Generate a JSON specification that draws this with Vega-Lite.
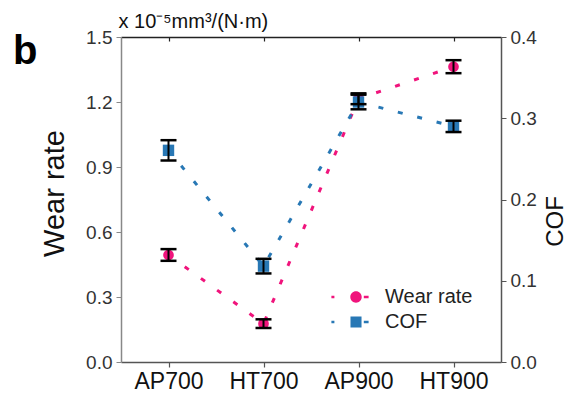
{
  "$schema": "https://vega.github.io/schema/vega-lite/v6.json",
  "width": 380,
  "height": 325,
  "autosize": {"type": "none"},
  "padding": {"left": 121, "top": 37, "right": 72, "bottom": 38},
  "background": "white",
  "config": {
    "font": "Liberation Sans",
    "view": {"stroke": null},
    "axis": {"grid": false, "titleFontWeight": "normal", "labelFont": "Liberation Sans", "titleFont": "Liberation Sans"}
  },
  "title": {"text": "b", "fontSize": 40, "fontWeight": "bold", "font": "Liberation Sans", "anchor": "start", "frame": "group", "dx": -108, "dy": 97, "color": "#000", "baseline": "alphabetic"},
  "data": {
    "values": [
      {"sample": "AP700", "series": "Wear rate", "value": 0.494, "lo": 0.467, "hi": 0.521},
      {"sample": "HT700", "series": "Wear rate", "value": 0.177, "lo": 0.157, "hi": 0.197},
      {"sample": "AP900", "series": "Wear rate", "value": 1.215, "lo": 1.19, "hi": 1.24},
      {"sample": "HT900", "series": "Wear rate", "value": 1.363, "lo": 1.333, "hi": 1.393},
      {"sample": "AP700", "series": "COF", "value": 0.2605, "lo": 0.248, "hi": 0.273},
      {"sample": "HT700", "series": "COF", "value": 0.118, "lo": 0.109, "hi": 0.127},
      {"sample": "AP900", "series": "COF", "value": 0.32, "lo": 0.311, "hi": 0.329},
      {"sample": "HT900", "series": "COF", "value": 0.29, "lo": 0.283, "hi": 0.297}
    ]
  },
  "resolve": {"scale": {"y": "independent"}, "axis": {"x": "independent", "y": "independent"}},
  "layer": [
    {
      "transform": [{"filter": "datum.series === 'Wear rate'"}],
      "mark": {"type": "line", "color": "#F0147C", "strokeWidth": 3, "strokeDash": [5, 15]},
      "encoding": {
        "x": {"field": "sample", "type": "ordinal", "scale": {"type": "point", "padding": 0.5, "domain": ["AP700", "HT700", "AP900", "HT900"]},
          "axis": {"orient": "bottom", "title": null, "labelAngle": 0, "labelFontSize": 23, "labelPadding": 3, "tickSize": 5, "tickColor": "#555", "domainColor": "#555", "domainWidth": 1.5, "tickWidth": 1.2, "labelColor": "#111"}},
        "y": {"field": "value", "type": "quantitative", "scale": {"domain": [0, 1.5], "nice": false, "zero": false},
          "axis": {"orient": "left", "title": "Wear rate", "values": [0, 0.3, 0.6, 0.9, 1.2, 1.5], "format": ".1f", "labelFontSize": 19, "labelPadding": 4, "tickSize": 5, "tickColor": "#888", "domainColor": "#888", "domainWidth": 1.5, "titleFontSize": 29, "titleAngle": -90, "titleBaseline": "alphabetic", "titleAlign": "center", "titleX": -58, "titleY": 156, "labelColor": "#333", "titleColor": "#111"}}
      }
    },
    {
      "transform": [{"filter": "datum.series === 'COF'"}],
      "mark": {"type": "line", "color": "#2878B5", "strokeWidth": 3, "strokeDash": [5, 15]},
      "encoding": {
        "x": {"field": "sample", "type": "ordinal", "scale": {"type": "point", "padding": 0.5, "domain": ["AP700", "HT700", "AP900", "HT900"]},
          "axis": {"orient": "top", "labels": false, "tickSize": -4, "tickColor": "#222", "domainColor": "#222", "domainWidth": 1.5, "tickWidth": 1.2, "title": "x 10⁻⁵mm³/(N·m)", "titleFontSize": 20, "titleAlign": "left", "titleAnchor": "start", "titleBaseline": "alphabetic", "titleAngle": 0, "titleX": -3, "titleY": -10, "titleColor": "#111"}},
        "y": {"field": "value", "type": "quantitative", "scale": {"domain": [0, 0.4], "nice": false, "zero": false},
          "axis": {"orient": "right", "title": "COF", "values": [0, 0.1, 0.2, 0.3, 0.4], "format": ".1f", "labelFontSize": 19, "labelPadding": 4, "tickSize": 5, "tickColor": "#555", "domainColor": "#555", "domainWidth": 1.5, "titleFontSize": 24, "titleAngle": -90, "titleBaseline": "alphabetic", "titleAlign": "center", "titleX": 61, "titleY": 184, "labelColor": "#333", "titleColor": "#111"}}
      }
    },
    {
      "transform": [{"filter": "datum.series === 'Wear rate'"}],
      "mark": {"type": "point", "filled": true, "size": 115, "opacity": 1},
      "encoding": {
        "x": {"field": "sample", "type": "ordinal", "scale": {"type": "point", "padding": 0.5, "domain": ["AP700", "HT700", "AP900", "HT900"]}, "axis": null},
        "y": {"field": "value", "type": "quantitative", "scale": {"domain": [0, 1.5], "nice": false, "zero": false}, "axis": null},
        "color": {"field": "series", "type": "nominal", "scale": {"domain": ["Wear rate", "COF"], "range": ["#F0147C", "#2878B5"]},
          "legend": {"title": null, "orient": "none", "legendX": 225, "legendY": 250, "padding": 0, "symbolSize": 144, "symbolOpacity": 1, "labelFontSize": 20, "labelOffset": 19, "rowPadding": 5, "labelColor": "#222", "labelFont": "Liberation Sans",
            "symbolType": {"expr": "datum.value === 'COF' ? 'M -4.1 -0.22 H -3.6 V 0.22 H -4.1 Z M -0.92 -0.92 H 0.92 V 0.92 H -0.92 Z M 1.3 -0.22 H 2.1 V 0.22 H 1.3 Z' : 'M -4.1 -0.22 H -3.6 V 0.22 H -4.1 Z M -0.95 0 A 0.95 0.95 0 1 0 0.95 0 A 0.95 0.95 0 1 0 -0.95 0 Z M 1.3 -0.22 H 2.1 V 0.22 H 1.3 Z'"}}}
      }
    },
    {
      "transform": [{"filter": "datum.series === 'COF'"}],
      "mark": {"type": "point", "shape": "square", "filled": true, "size": 130, "opacity": 1},
      "encoding": {
        "x": {"field": "sample", "type": "ordinal", "scale": {"type": "point", "padding": 0.5, "domain": ["AP700", "HT700", "AP900", "HT900"]}, "axis": null},
        "y": {"field": "value", "type": "quantitative", "scale": {"domain": [0, 0.4], "nice": false, "zero": false}, "axis": null},
        "color": {"field": "series", "type": "nominal", "scale": {"domain": ["Wear rate", "COF"], "range": ["#F0147C", "#2878B5"]}, "legend": null}
      }
    },
    {
      "transform": [{"filter": "datum.series === 'Wear rate'"}],
      "mark": {"type": "rule", "color": "#000", "strokeWidth": 2},
      "encoding": {
        "x": {"field": "sample", "type": "ordinal", "scale": {"type": "point", "padding": 0.5, "domain": ["AP700", "HT700", "AP900", "HT900"]}, "axis": null},
        "y": {"field": "lo", "type": "quantitative", "scale": {"domain": [0, 1.5], "nice": false, "zero": false}, "axis": null},
        "y2": {"field": "hi"}
      }
    },
    {
      "transform": [{"filter": "datum.series === 'Wear rate'"}],
      "mark": {"type": "tick", "color": "#000", "orient": "horizontal", "size": 16, "thickness": 2.5, "opacity": 1},
      "encoding": {
        "x": {"field": "sample", "type": "ordinal", "scale": {"type": "point", "padding": 0.5, "domain": ["AP700", "HT700", "AP900", "HT900"]}, "axis": null},
        "y": {"field": "lo", "type": "quantitative", "scale": {"domain": [0, 1.5], "nice": false, "zero": false}, "axis": null}
      }
    },
    {
      "transform": [{"filter": "datum.series === 'Wear rate'"}],
      "mark": {"type": "tick", "color": "#000", "orient": "horizontal", "size": 16, "thickness": 2.5, "opacity": 1},
      "encoding": {
        "x": {"field": "sample", "type": "ordinal", "scale": {"type": "point", "padding": 0.5, "domain": ["AP700", "HT700", "AP900", "HT900"]}, "axis": null},
        "y": {"field": "hi", "type": "quantitative", "scale": {"domain": [0, 1.5], "nice": false, "zero": false}, "axis": null}
      }
    },
    {
      "transform": [{"filter": "datum.series === 'COF'"}],
      "mark": {"type": "rule", "color": "#000", "strokeWidth": 2},
      "encoding": {
        "x": {"field": "sample", "type": "ordinal", "scale": {"type": "point", "padding": 0.5, "domain": ["AP700", "HT700", "AP900", "HT900"]}, "axis": null},
        "y": {"field": "lo", "type": "quantitative", "scale": {"domain": [0, 0.4], "nice": false, "zero": false}, "axis": null},
        "y2": {"field": "hi"}
      }
    },
    {
      "transform": [{"filter": "datum.series === 'COF'"}],
      "mark": {"type": "tick", "color": "#000", "orient": "horizontal", "size": 16, "thickness": 2.5, "opacity": 1},
      "encoding": {
        "x": {"field": "sample", "type": "ordinal", "scale": {"type": "point", "padding": 0.5, "domain": ["AP700", "HT700", "AP900", "HT900"]}, "axis": null},
        "y": {"field": "lo", "type": "quantitative", "scale": {"domain": [0, 0.4], "nice": false, "zero": false}, "axis": null}
      }
    },
    {
      "transform": [{"filter": "datum.series === 'COF'"}],
      "mark": {"type": "tick", "color": "#000", "orient": "horizontal", "size": 16, "thickness": 2.5, "opacity": 1},
      "encoding": {
        "x": {"field": "sample", "type": "ordinal", "scale": {"type": "point", "padding": 0.5, "domain": ["AP700", "HT700", "AP900", "HT900"]}, "axis": null},
        "y": {"field": "hi", "type": "quantitative", "scale": {"domain": [0, 0.4], "nice": false, "zero": false}, "axis": null}
      }
    }
  ]
}
